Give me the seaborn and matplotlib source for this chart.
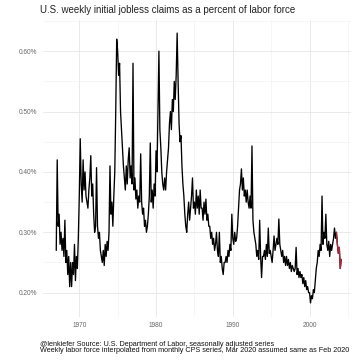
import numpy as np
import pandas as pd
import matplotlib
matplotlib.use("Agg")
import matplotlib.pyplot as plt
import seaborn as sns

# ------------------------------------------------------------
# Data: claims as % of labor force, 8 readings per year
# ------------------------------------------------------------
start_year = 1967
claims_1960s = [
    0.27, 0.42, 0.31, 0.33, 0.28, 0.30, 0.27, 0.29,   # 1967
    0.26, 0.32, 0.25, 0.27, 0.23, 0.26, 0.21, 0.25,   # 1968
    0.21, 0.25, 0.23, 0.28, 0.22, 0.26, 0.24, 0.29,   # 1969
]
claims_1970s = [
    0.36, 0.455, 0.38, 0.35, 0.42, 0.37, 0.40, 0.36,  # 1970
    0.35, 0.34, 0.37, 0.39, 0.427, 0.36, 0.38, 0.33,  # 1971
    0.30, 0.31, 0.407, 0.31, 0.29, 0.30, 0.27, 0.26,  # 1972
    0.25, 0.27, 0.245, 0.28, 0.26, 0.285, 0.27, 0.30,  # 1973
    0.41, 0.33, 0.35, 0.31, 0.36, 0.40, 0.50, 0.62,   # 1974
    0.60, 0.56, 0.58, 0.50, 0.47, 0.44, 0.41, 0.39,   # 1975
    0.37, 0.41, 0.38, 0.42, 0.44, 0.39, 0.41, 0.38,   # 1976
    0.58, 0.37, 0.39, 0.355, 0.37, 0.34, 0.36, 0.35,  # 1977
    0.43, 0.35, 0.33, 0.34, 0.31, 0.32, 0.30, 0.31,   # 1978
    0.33, 0.36, 0.448, 0.35, 0.37, 0.34, 0.38, 0.36,  # 1979
]
claims_1980s = [
    0.435, 0.40, 0.50, 0.60, 0.47, 0.44, 0.40, 0.38,  # 1980
    0.37, 0.39, 0.37, 0.40, 0.42, 0.44, 0.48, 0.50,   # 1981
    0.47, 0.52, 0.50, 0.55, 0.52, 0.56, 0.63, 0.55,   # 1982
    0.48, 0.45, 0.46, 0.41, 0.38, 0.36, 0.33, 0.31,   # 1983
    0.30, 0.33, 0.35, 0.32, 0.34, 0.36, 0.39, 0.34,   # 1984
    0.35, 0.33, 0.37, 0.34, 0.36, 0.33, 0.37, 0.34,   # 1985
    0.34, 0.32, 0.35, 0.33, 0.355, 0.32, 0.33, 0.31,  # 1986
    0.31, 0.29, 0.30, 0.28, 0.29, 0.27, 0.28, 0.30,   # 1987
    0.27, 0.26, 0.30, 0.25, 0.26, 0.24, 0.23, 0.25,   # 1988
    0.25, 0.26, 0.25, 0.27, 0.26, 0.28, 0.27, 0.33,   # 1989
]
claims_1990s = [
    0.29, 0.28, 0.30, 0.285, 0.29, 0.31, 0.34, 0.37,  # 1990
    0.38, 0.405, 0.37, 0.39, 0.36, 0.37, 0.35, 0.37,  # 1991
    0.35, 0.34, 0.36, 0.34, 0.443, 0.32, 0.30, 0.29,  # 1992
    0.28, 0.26, 0.27, 0.255, 0.32, 0.26, 0.225, 0.26,  # 1993
    0.26, 0.27, 0.255, 0.28, 0.26, 0.307, 0.265, 0.27,  # 1994
    0.26, 0.25, 0.27, 0.294, 0.27, 0.28, 0.29, 0.28,  # 1995
    0.322, 0.28, 0.27, 0.26, 0.27, 0.25, 0.26, 0.245,  # 1996
    0.26, 0.245, 0.255, 0.24, 0.25, 0.235, 0.245, 0.24,  # 1997
    0.235, 0.24, 0.275, 0.23, 0.24, 0.225, 0.235, 0.225,  # 1998
    0.23, 0.215, 0.225, 0.21, 0.22, 0.205, 0.21, 0.20,  # 1999
]
claims_2000s = [
    0.20, 0.183, 0.195, 0.19, 0.205, 0.20, 0.22, 0.24,  # 2000
    0.25, 0.27, 0.26, 0.28, 0.27, 0.36, 0.28, 0.30,   # 2001
    0.29, 0.33, 0.28, 0.27, 0.285, 0.26, 0.28, 0.27,  # 2002
    0.28, 0.29, 0.307, 0.29, 0.30, 0.28, 0.265, 0.275,  # 2003
    0.24, 0.255,                                      # 2004
]
n_recent = 6  # latest readings drawn in red

y_ticks = [0.2, 0.3, 0.4, 0.5, 0.6]
x_ticks = [1970, 1980, 1990, 2000]

title = "U.S. weekly initial jobless claims as a percent of labor force"
caption = ("@lenkiefer Source: U.S. Department of Labor, seasonally adjusted series\n"
           "Weekly labor force interpolated from monthly CPS series, Mar 2020 assumed same as Feb 2020")

values = claims_1960s + claims_1970s + claims_1980s + claims_1990s + claims_2000s
df = pd.DataFrame({"year": start_year + np.arange(len(values)) / 8, "rate": values})
recent = df.iloc[-n_recent:]

# ------------------------------------------------------------
# Plot
# ------------------------------------------------------------
sns.set_theme(style="whitegrid")
plt.rcParams["font.family"] = ["Liberation Sans", "DejaVu Sans"]

fig, ax = plt.subplots(figsize=(3.6, 3.6), dpi=100)
fig.subplots_adjust(left=0.12, right=0.975, top=0.945, bottom=0.12)

sns.lineplot(data=df, x="year", y="rate", color="black", linewidth=0.95, ax=ax)
sns.lineplot(data=recent, x="year", y="rate", color="#b0283c", linewidth=0.95, ax=ax)

ax.set_xlim(1965.3, 2005.4)
ax.set_ylim(0.160, 0.652)
ax.set_xticks(x_ticks)
ax.set_xticklabels([str(t) for t in x_ticks])
ax.set_yticks(y_ticks)
ax.set_yticklabels([f"{t:.2f}%" for t in y_ticks])
ax.set_xticks([1975, 1985, 1995, 2005], minor=True)
ax.set_yticks([0.25, 0.35, 0.45, 0.55, 0.65], minor=True)
ax.grid(which="major", color="#e6e6e6", linewidth=0.6)
ax.grid(which="minor", color="#f0f0f0", linewidth=0.4)
ax.tick_params(which="both", length=0, labelsize=4.7, labelcolor="#666666", pad=4)
for s in ax.spines.values():
    s.set_visible(False)
ax.set_xlabel("")
ax.set_ylabel("")

fig.text(0.112, 0.972, title, fontsize=7.0, color="#222222", ha="left", va="center")
fig.text(0.112, 0.035, caption, fontsize=5.2, color="#111111", ha="left", va="center",
         linespacing=0.9)

fig.savefig("out.png", dpi=100, facecolor="white")
